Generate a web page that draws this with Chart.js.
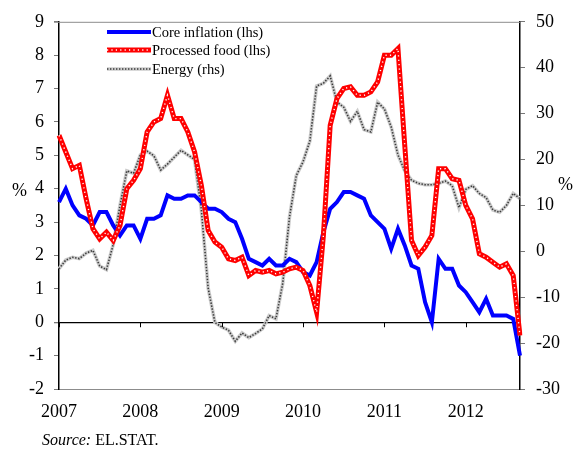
<!DOCTYPE html>
<html>
<head>
<meta charset="utf-8">
<script src="https://cdn.jsdelivr.net/npm/chart.js@4.4.0/dist/chart.umd.min.js"></script>
<style>
    html, body { margin: 0; padding: 0; background: #fff; }
    #wrap { position: relative; width: 573px; height: 449px; }
    .serif { font-family: "Liberation Serif", "Times New Roman", serif; color: #000; position: absolute; }
    #pctLeft { left: 12px; top: 180px; font-size: 18px; line-height: 20px; }
    #pctRight { left: 558px; top: 174px; font-size: 18px; line-height: 20px; }
    #source { left: 42px; top: 431px; font-size: 16px; line-height: 18px; }
</style>
</head>
<body>
<div id="wrap">
    <canvas id="chart" width="573" height="449"></canvas>
    <div id="pctLeft" class="serif">%</div>
    <div id="pctRight" class="serif">%</div>
    <div id="source" class="serif"><i>Source:</i> EL.STAT.</div>
</div>
<script>
// Monthly data, Jan 2007 - Sep 2012
const years = ['2007', '2008', '2009', '2010', '2011', '2012'];
const monthNames = ['Jan', 'Feb', 'Mar', 'Apr', 'May', 'Jun', 'Jul', 'Aug', 'Sep', 'Oct', 'Nov', 'Dec'];
const months = [];
years.forEach(y => monthNames.forEach(m => months.push(m + ' ' + y)));
months.length = 69;

// Core inflation, % (lhs)
const coreInflation = [
    3.6, 4.0, 3.5, 3.2, 3.1, 2.9, 3.3, 3.3, 2.9, 2.6, 2.9, 2.9,
    2.5, 3.1, 3.1, 3.2, 3.8, 3.7, 3.7, 3.8, 3.8, 3.6, 3.4, 3.4,
    3.3, 3.1, 3.0, 2.5, 1.9, 1.8, 1.7, 1.9, 1.7, 1.7, 1.9, 1.8,
    1.5, 1.4, 1.8, 2.7, 3.4, 3.6, 3.9, 3.9, 3.8, 3.7, 3.2, 3.0,
    2.8, 2.2, 2.8, 2.3, 1.7, 1.6, 0.6, 0.0, 1.9, 1.6, 1.6, 1.1,
    0.9, 0.6, 0.3, 0.7, 0.2, 0.2, 0.2, 0.1, -1.0
];

// Processed food, % (lhs)
const processedFood = [
    5.6, 5.1, 4.6, 4.7, 3.7, 2.8, 2.5, 2.7, 2.45, 2.9, 4.0, 4.25,
    4.6, 5.7, 6.0, 6.1, 6.8, 6.1, 6.1, 5.7, 5.1, 4.1, 2.75, 2.4,
    2.25, 1.9, 1.85, 1.95, 1.4, 1.55, 1.5, 1.55, 1.45, 1.5, 1.6, 1.65,
    1.55, 1.1, 0.3, 2.6, 5.9, 6.7, 7.0, 7.05, 6.8, 6.8, 6.9, 7.2,
    8.0, 8.0, 8.2, 5.3, 2.45, 2.0, 2.25, 2.6, 4.6, 4.6, 4.3, 4.25,
    3.5, 3.1, 2.05, 1.95, 1.8, 1.65, 1.75, 1.4, -0.4
];

// Energy, % (rhs)
const energy = [
    -3.8, -1.9, -1.3, -1.6, -0.4, 0.2, -3.2, -4.0, 1.5, 10, 17.5, 17,
    21, 21.8, 20.8, 17.7, 19, 20.5, 22, 21, 20, 9, -8, -15.5,
    -16.5, -17.2, -19.6, -17.8, -18.8, -17.9, -16.9, -14, -14.7, -7, 7.5, 16.5,
    19.5, 24, 36, 36.6, 38.2, 32.5, 31.4, 28.3, 30.5, 26.5, 26, 32.5,
    31, 27.1, 21, 17.5, 15.5, 14.8, 14.5, 14.5, 14.8, 15.3, 14.3, 9.5,
    13.5, 14.3, 12.6, 11.7, 9, 8.5, 10, 12.6, 11.5
];

const legendLabels = ['Core inflation (lhs)', 'Processed food (lhs)', 'Energy (rhs)'];

const serif = '"Liberation Serif", "Times New Roman", serif';

// Draws the legend inside the plot, zero-line ticks and the top border
const decorPlugin = {
    id: 'decor',
    afterDraw(chart) {
        const ctx = chart.ctx;
        const area = chart.chartArea;
        const x = chart.scales.x;
        const y0 = chart.scales.y.getPixelForValue(0);

        ctx.save();
        // top border
        ctx.strokeStyle = '#8c8c8c';
        ctx.lineWidth = 1;
        ctx.beginPath();
        ctx.moveTo(area.left - 5, area.top + 0.5);
        ctx.lineTo(area.right, area.top + 0.5);
        ctx.stroke();

        // year ticks on the zero line
        ctx.strokeStyle = '#000';
        years.forEach((yr, i) => {
            const px = Math.round(x.getPixelForValue(i * 12)) + 0.5;
            ctx.beginPath();
            ctx.moveTo(px, y0);
            ctx.lineTo(px, y0 + 5);
            ctx.stroke();
        });

        // legend
        const rows = [32, 50, 69];
        const groups = [[2], [1, 0], [4, 3]];
        ctx.font = '14.5px ' + serif;
        ctx.textBaseline = 'middle';
        ctx.fillStyle = '#000';
        groups.forEach((g, r) => {
            g.forEach(di => {
                const ds = chart.data.datasets[di];
                ctx.strokeStyle = ds.borderColor;
                ctx.lineWidth = ds.borderWidth;
                ctx.setLineDash(ds.borderDash || []);
                ctx.lineCap = 'butt';
                ctx.beginPath();
                ctx.moveTo(107, rows[r]);
                ctx.lineTo(151, rows[r]);
                ctx.stroke();
            });
            ctx.setLineDash([]);
            ctx.fillText(legendLabels[r], 152, rows[r] + 1);
        });
        ctx.restore();
    }
};

const ctx = document.getElementById('chart').getContext('2d');
new Chart(ctx, {
    type: 'line',
    data: {
        labels: months,
        datasets: [
            { data: processedFood, yAxisID: 'y', borderColor: '#ffffff', borderWidth: 1.4, borderDash: [1.2, 3.2], order: 0 },
            { label: legendLabels[1], data: processedFood, yAxisID: 'y', borderColor: '#ff0000', borderWidth: 5, order: 1 },
            { label: legendLabels[0], data: coreInflation, yAxisID: 'y', borderColor: '#0000ff', borderWidth: 4, order: 2 },
            { data: energy, yAxisID: 'y1', borderColor: '#3a3a3a', borderWidth: 1.6, borderDash: [1.4, 1.6], order: 3 },
            { label: legendLabels[2], data: energy, yAxisID: 'y1', borderColor: '#cccccc', borderWidth: 3.6, order: 4 }
        ]
    },
    options: {
        responsive: false,
        animation: false,
        events: [],
        elements: {
            point: { radius: 0 },
            line: { tension: 0, borderJoinStyle: 'miter', borderCapStyle: 'butt' }
        },
        layout: { padding: { top: 17, left: 0, right: 0, bottom: 0 } },
        plugins: {
            legend: { display: false },
            tooltip: { enabled: false }
        },
        scales: {
            x: {
                grid: { display: false, drawTicks: false },
                border: { color: '#8c8c8c', width: 1 },
                ticks: {
                    autoSkip: false,
                    maxRotation: 0,
                    padding: 12,
                    color: '#000',
                    font: { family: serif, size: 18 },
                    callback: (v, i) => (i % 12 === 0 ? years[i / 12] : '')
                },
                afterFit: s => { s.height = 60; }
            },
            y: {
                position: 'left',
                min: -2,
                max: 9,
                ticks: { stepSize: 1, padding: 10, color: '#000', font: { family: serif, size: 18 } },
                grid: {
                    color: c => (c.tick && c.tick.value === 0 ? '#000' : 'rgba(0,0,0,0)'),
                    lineWidth: c => (c.tick && c.tick.value === 0 ? 1.3 : 1),
                    tickColor: '#777',
                    tickLength: 5
                },
                border: { color: '#000', width: 1.5 },
                afterFit: s => { s.width = 59; }
            },
            y1: {
                position: 'right',
                min: -30,
                max: 50,
                ticks: { stepSize: 10, padding: 11, color: '#000', font: { family: serif, size: 18 } },
                grid: { drawOnChartArea: false, tickColor: '#777', tickLength: 5 },
                border: { color: '#000', width: 1.5 },
                afterFit: s => { s.width = 53; }
            }
        }
    },
    plugins: [decorPlugin]
});
</script>
</body>
</html>
